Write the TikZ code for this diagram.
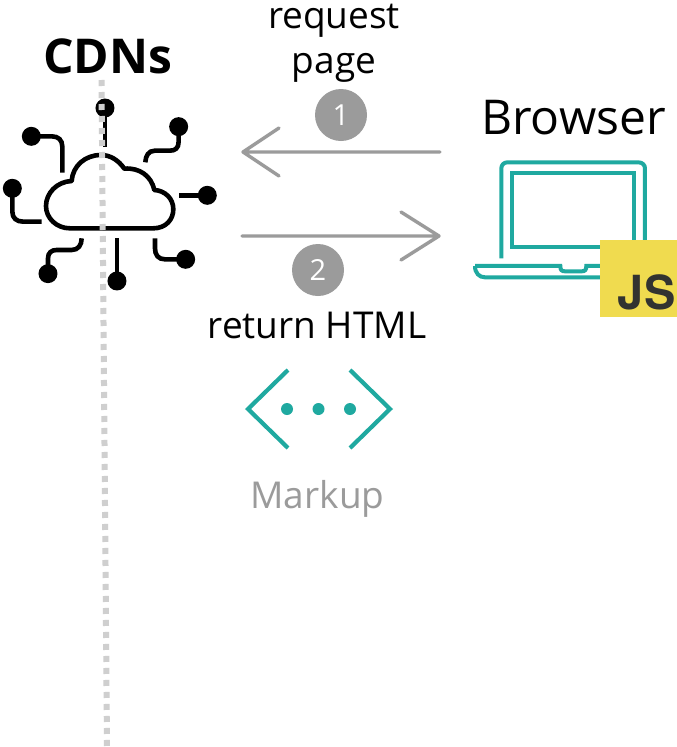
\documentclass[tikz,border=0pt]{standalone}
\usepackage{fontspec}
\setmainfont{Open Sans}
\newfontfamily\jsfont{TeX Gyre Heros}[BoldFont=* Bold]
\definecolor{teal1}{HTML}{1FA9A0}
\definecolor{gray1}{HTML}{9B9B9B}
\definecolor{dotgray}{HTML}{CFCFCF}
\definecolor{jsyellow}{HTML}{F0DB4F}
\definecolor{jsdark}{HTML}{323330}
\tikzset{
  lbl/.style={inner sep=0pt,text=black,anchor=base,font=\fontsize{37}{37}\selectfont,align=center},
  flow/.style={draw=gray1,line width=3.4pt,line cap=round,line join=round},
  badge/.style={circle,fill=gray1,minimum size=52pt,inner sep=0pt,text=white,font=\fontsize{29}{29}\selectfont},
  lead/.style={draw=black,line width=4.6pt,fill=none},
  pin/.style={circle,fill=black,minimum size=19pt,inner sep=0pt},
  lap/.style={draw=teal1,line width=4pt,fill=none},
  dotn/.style={circle,fill=teal1,minimum size=12pt,inner sep=0pt}
}
\begin{document}
\begin{tikzpicture}[x=1pt,y=-1pt]
\useasboundingbox (0,0) rectangle (677,747);
\fill[white] (0,0) rectangle (677,747);
% labels
\node[lbl,font=\fontsize{48}{48}\selectfont\bfseries] (cdn) at (107.5,73) {CDNs};
\node[lbl,font=\fontsize{48}{48}\selectfont] (browser) at (573.5,134) {Browser};
\node[lbl] (req) at (334,28) {request};
\node[lbl] (pg) at (334,73) {page};
\node[lbl] (ret) at (317,338.5) {return HTML};
\node[lbl,text=gray1] (mk) at (317.5,508) {Markup};
% cloud icon
\begin{scope}[yshift=-80pt,x=0.3333pt,y=-0.3333pt]
  \draw[lead,line join=round] (210,445) -- (460,445)
    .. controls (498,445) and (520,418) .. (520,388)
    .. controls (520,355) and (495,332) .. (463,330)
    .. controls (455,290) and (420,262) .. (373,266)
    .. controls (355,240) and (330,225) .. (303,225)
    .. controls (255,225) and (218,258) .. (215,303)
    .. controls (170,305) and (138,340) .. (138,378)
    .. controls (138,415) and (170,445) .. (210,445) -- cycle;
  \node[pin] (p1) at (315,84) {};
  \node[pin] (p2) at (536,140) {};
  \node[pin] (p3) at (622,346) {};
  \node[pin] (p4) at (557,538) {};
  \node[pin] (p5) at (351,603) {};
  \node[pin] (p6) at (144,581) {};
  \node[pin] (p7) at (37,325) {};
  \node[pin] (p8) at (94,169) {};
  \draw[lead] (p1.center) -- (315,200);
  \draw[lead] (p2.center) -- (536,185) .. controls (536,205) and (525,212) .. (510,212) -- (465,212) .. controls (445,212) and (437,228) .. (436,247);
  \draw[lead] (p3.center) -- (536,346);
  \draw[lead] (p4.center) -- (495,538) .. controls (475,538) and (465,525) .. (465,505) -- (465,475);
  \draw[lead] (p5.center) -- (351,475);
  \draw[lead] (p6.center) -- (144,535) .. controls (144,518) and (155,510) .. (170,510) -- (215,510) .. controls (235,510) and (245,495) .. (245,475);
  \draw[lead] (p7.center) -- (37,395) .. controls (37,415) and (50,425) .. (70,425) -- (125,425);
  \draw[lead] (p8.center) -- (155,169) .. controls (175,169) and (187,180) .. (187,200) -- (187,278);
\end{scope}
% dotted axis
\coordinate (axt) at (101.5,80);
\coordinate (axb) at (107,747);
\draw[dotgray,line width=6pt,dash pattern=on 6pt off 6pt] (axt) -- (axb);
% arrows
\coordinate (a1s) at (440,152);
\coordinate (a1e) at (243,152);
\coordinate (a2s) at (242,236);
\coordinate (a2e) at (439,236);
\draw[flow] (a1s) -- (a1e) (279,128) -- (a1e) -- (279,176);
\draw[flow] (a2s) -- (a2e) (401,212) -- (a2e) -- (401,260);
\node[badge] (b1) at (341,115) {1};
\node[badge] (b2) at (318,270) {2};
% laptop
\begin{scope}[yshift=-140pt,xshift=460pt,x=0.3333pt,y=-0.3333pt]
  \draw[lap] (124,355) -- (124,85) .. controls (124,75) and (132,67) .. (142,67) -- (535,67) .. controls (547,67) and (555,75) .. (555,85) -- (555,310);
  \draw[lap] (156,100) rectangle (523,322);
  \draw[lap] (45,378) -- (301,378) .. controls (301,390) and (305,394) .. (315,394) -- (365,394) .. controls (375,394) and (379,390) .. (379,378) -- (430,378);
  \draw[lap] (45,378) .. controls (45,400) and (58,412) .. (75,412) -- (430,412);
  \node[draw=none,fill=jsyellow,minimum width=77pt,minimum height=77pt,inner sep=0pt,anchor=north west] (js) at (420,299) {};
  \node[text=jsdark,inner sep=0pt,font=\fontsize{47}{47}\selectfont\jsfont\bfseries] (jst) at (560,458) {JS};
\end{scope}
% markup icon
\coordinate (ml) at (248,409);
\coordinate (mr) at (390,409);
\draw[lap,line width=4.2pt] (288,370) -- (ml) -- (288,448);
\draw[lap,line width=4.2pt] (350,370) -- (mr) -- (350,448);
\node[dotn] (d1) at (287,409) {};
\node[dotn] (d2) at (318.5,409) {};
\node[dotn] (d3) at (350,409) {};
\end{tikzpicture}
\end{document}
